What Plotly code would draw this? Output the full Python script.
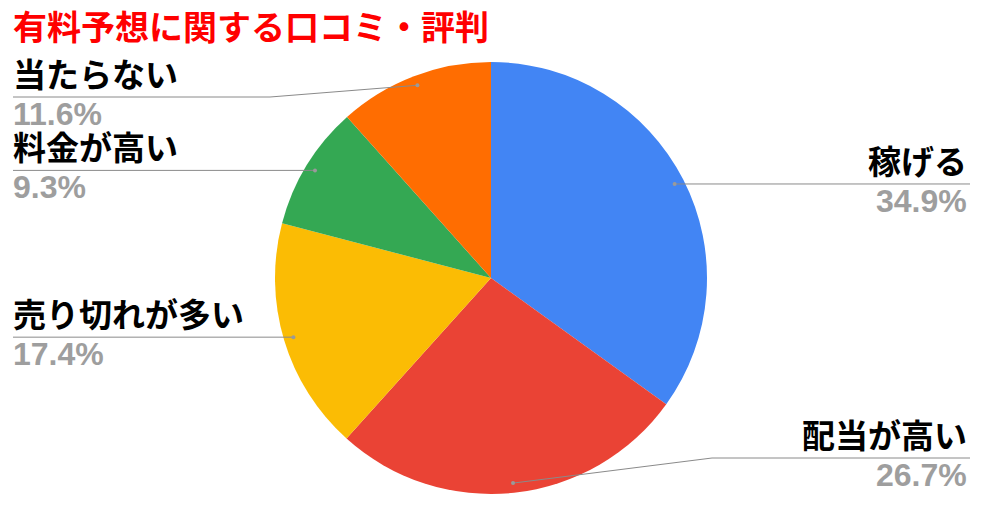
import math
import plotly.graph_objects as go

W, H = 985, 505

# data
categories = ["稼げる", "配当が高い", "売り切れが多い", "料金が高い", "当たらない"]
shares = [34.9, 26.7, 17.4, 9.3, 11.6]
colors = ["#4285F4", "#EA4335", "#FBBC04", "#34A853", "#FF6D01"]
title_text = "有料予想に関する口コミ・評判"

# layout of the pie in pixels
cx, cy, R = 491, 278, 216
# label placement: side, y of the leader line, x where line turns horizontal (None = straight)
label_side = ["right", "right", "left", "left", "left"]
label_line_y = [183, 458, 336, 170, 97]
label_elbow_x = [None, 712, None, None, 270]

def px(x):
    return x / W

def py(y):
    return 1 - y / H

fig = go.Figure(go.Pie(
    labels=categories,
    values=shares,
    marker=dict(colors=colors, line=dict(width=0)),
    sort=False,
    direction="clockwise",
    rotation=0,
    textinfo="none",
    hoverinfo="label+percent",
    domain=dict(x=[px(cx - R), px(cx + R)], y=[py(cy + R), py(cy - R)]),
    showlegend=False,
))

shapes = []
annotations = []
total = sum(shares)
cum = 0
for name, v, side, ly, ex in zip(categories, shares, label_side, label_line_y, label_elbow_x):
    mid = (cum + v / 2) / total * 2 * math.pi
    cum += v
    dx = cx + 0.955 * R * math.sin(mid)
    dy = cy - 0.955 * R * math.cos(mid)
    end_x = 970 if side == "right" else 13
    if ex is None:
        path = f"M {px(dx)},{py(dy)} L {px(end_x)},{py(dy)}"
        ly = dy
    else:
        path = f"M {px(dx)},{py(dy)} L {px(ex)},{py(ly)} L {px(end_x)},{py(ly)}"
    shapes.append(dict(type="path", path=path, xref="paper", yref="paper",
                       line=dict(color="#8a8a8a", width=1)))
    shapes.append(dict(type="circle", xref="paper", yref="paper",
                       x0=px(dx - 2), x1=px(dx + 2), y0=py(dy + 2), y1=py(dy - 2),
                       fillcolor="#9a9a9a", line=dict(width=0)))
    tx = 968 if side == "right" else 12
    anchor = "right" if side == "right" else "left"
    annotations.append(dict(
        text=name, x=px(tx), y=py(ly + 1), xref="paper", yref="paper",
        xanchor=anchor, yanchor="bottom", showarrow=False, borderpad=0,
        font=dict(family="Noto Sans CJK JP", size=33, color="#000000", weight=700)))
    annotations.append(dict(
        text=f"{v}%", x=px(tx), y=py(ly - 2), xref="paper", yref="paper",
        xanchor=anchor, yanchor="top", showarrow=False, borderpad=0,
        font=dict(family="Liberation Sans", size=32, color="#9e9e9e", weight=700)))

annotations.append(dict(
    text=title_text, x=px(11), y=py(25), xref="paper", yref="paper",
    xanchor="left", yanchor="middle", showarrow=False,
    font=dict(family="Noto Sans CJK JP", size=34, color="#ff0000", weight=700)))

fig.update_layout(
    width=W, height=H,
    margin=dict(l=0, r=0, t=0, b=0),
    paper_bgcolor="white",
    plot_bgcolor="white",
    shapes=shapes,
    annotations=annotations,
)

fig.write_html("out.html", config={"displayModeBar": False},
               post_script="document.body.style.margin='0';")
